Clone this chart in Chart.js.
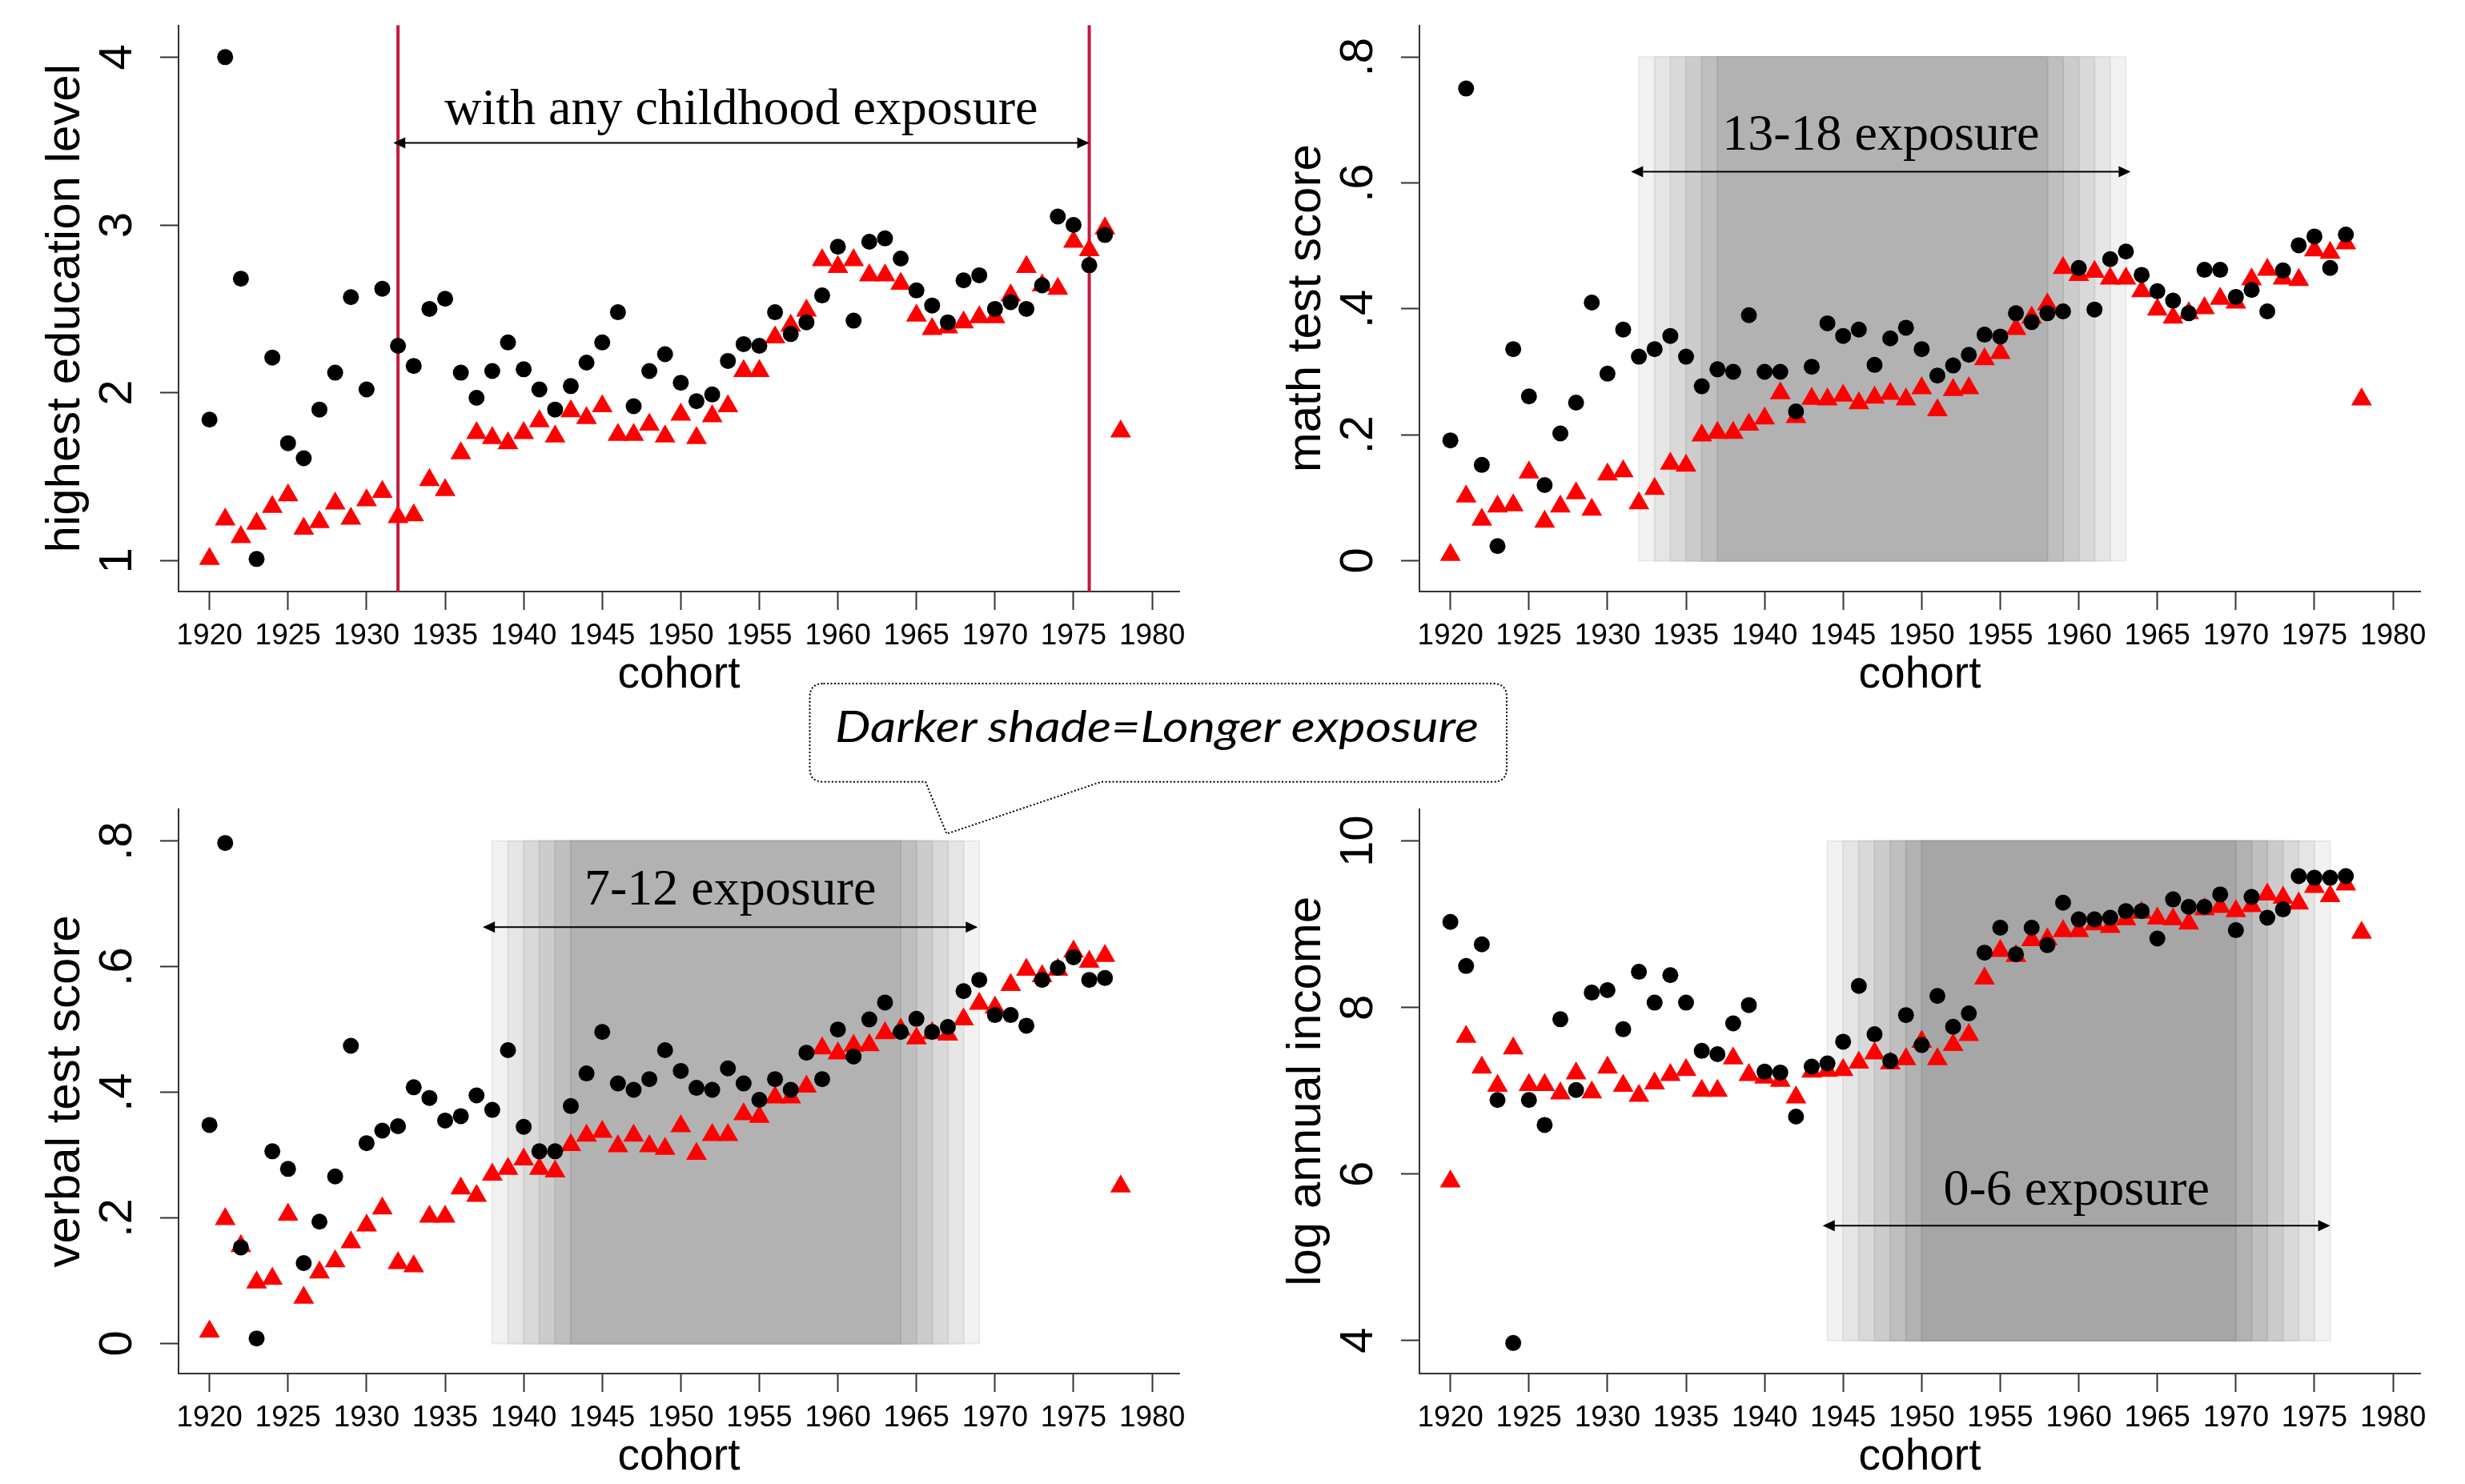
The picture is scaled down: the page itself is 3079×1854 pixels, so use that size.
<!DOCTYPE html>
<html><head><meta charset="utf-8">
<script src="https://cdn.jsdelivr.net/npm/chart.js@4.4.1/dist/chart.umd.min.js"></script>
<style>
html,body{margin:0;padding:0;background:#fff;width:3079px;height:1854px;overflow:hidden;}
canvas{position:absolute;}
#callout{position:absolute;left:0;top:0;z-index:5;pointer-events:none;}
</style></head><body>
<canvas id="c1" width="1529" height="877" style="left:0px;top:0px"></canvas>
<canvas id="c2" width="1529" height="877" style="left:1550px;top:0px"></canvas>
<canvas id="c3" width="1529" height="874" style="left:0px;top:980px"></canvas>
<canvas id="c4" width="1529" height="874" style="left:1550px;top:980px"></canvas>
<svg id="callout" width="3079" height="1854" xmlns="http://www.w3.org/2000/svg">
  <path d="M1028.5,854 H1865 Q1882,854 1882,871 V959.7 Q1882,976.7 1865,976.7 H1376 L1182.5,1041.7 L1156,976.7 H1028.5 Q1011.5,976.7 1011.5,959.7 V871 Q1011.5,854 1028.5,854 Z"
        fill="#ffffff" stroke="#000" stroke-width="2" stroke-dasharray="2,2.5"/>
  <text x="1043" y="926.7" textLength="804" lengthAdjust="spacingAndGlyphs"
        font-family="Lato, 'Open Sans', sans-serif" font-style="italic" font-size="54" fill="#000">Darker shade=Longer exposure</text>
</svg>
<script>
// ---------------- DATA ----------------
const cohorts = [1920,1921,1922,1923,1924,1925,1926,1927,1928,1929,
                 1930,1931,1932,1933,1934,1935,1936,1937,1938,1939,
                 1940,1941,1942,1943,1944,1945,1946,1947,1948,1949,
                 1950,1951,1952,1953,1954,1955,1956,1957,1958,1959,
                 1960,1961,1962,1963,1964,1965,1966,1967,1968,1969,
                 1970,1971,1972,1973,1974,1975,1976,1977,1978];

const xTickValues = [1920,1925,1930,1935,1940,1945,1950,1955,1960,1965,1970,1975,1980];
const xTickLabels = ['1920','1925','1930','1935','1940','1945','1950','1955','1960','1965','1970','1975','1980'];

// highest education level
const eduBlack = [1.84,4.00,2.68,1.01,2.21,1.70,1.61,1.90,2.12,2.57,
                  2.02,2.62,2.28,2.16,2.50,2.56,2.12,1.97,2.13,2.30,
                  2.14,2.02,1.90,2.04,2.18,2.30,2.48,1.92,2.13,2.23,
                  2.06,1.95,1.99,2.19,2.29,2.28,2.48,2.35,2.42,2.58,
                  2.87,2.43,2.90,2.92,2.80,2.61,2.52,2.42,2.67,2.70,
                  2.50,2.54,2.50,2.64,3.05,3.00,2.76,2.94,null];
const eduRed   = [1.01,1.245,1.14,1.22,1.32,1.39,1.19,1.23,1.34,1.25,
                  1.36,1.41,1.26,1.27,1.48,1.42,1.64,1.76,1.73,1.70,
                  1.76,1.83,1.74,1.89,1.85,1.92,1.75,1.75,1.81,1.74,
                  1.87,1.73,1.86,1.92,2.13,2.13,2.33,2.40,2.49,2.79,
                  2.75,2.79,2.70,2.70,2.65,2.46,2.38,2.39,2.42,2.45,
                  2.45,2.58,2.75,2.64,2.62,2.90,2.85,2.98,1.77];
const eduTicks = [1,2,3,4];
const eduTickLabels = ['1','2','3','4'];
const eduLines = [1932,1976];

// math test score
const mathBlack = [0.191,0.750,0.152,0.023,0.336,0.261,0.120,0.202,0.251,0.410,
                   0.297,0.367,0.324,0.336,0.357,0.324,0.277,0.304,0.300,0.390,
                   0.300,0.300,0.237,0.308,0.377,0.357,0.367,0.311,0.353,0.370,
                   0.336,0.294,0.310,0.327,0.359,0.356,0.393,0.379,0.393,0.396,
                   0.465,0.399,0.479,0.491,0.454,0.428,0.413,0.393,0.462,0.462,
                   0.419,0.430,0.396,0.461,0.501,0.515,0.465,0.518,null];
const mathRed   = [0.009,0.102,0.065,0.086,0.088,0.140,0.062,0.086,0.107,0.081,
                   0.137,0.142,0.091,0.114,0.154,0.151,0.199,0.203,0.203,0.216,
                   0.226,0.266,0.228,0.257,0.256,0.262,0.250,0.259,0.265,0.256,
                   0.274,0.239,0.271,0.274,0.320,0.330,0.368,0.386,0.407,0.465,
                   0.454,0.459,0.448,0.448,0.428,0.399,0.386,0.393,0.401,0.416,
                   0.410,0.447,0.462,0.448,0.446,0.493,0.489,0.504,0.256];

// verbal test score
const verbalBlack = [0.348,0.797,0.153,0.008,0.306,0.278,0.128,0.194,0.266,0.474,
                     0.319,0.339,0.346,0.408,0.391,0.355,0.362,0.395,0.372,0.467,
                     0.345,0.306,0.306,0.378,0.430,0.496,0.414,0.404,0.421,0.467,
                     0.434,0.407,0.404,0.438,0.414,0.388,0.421,0.404,0.463,0.421,
                     0.500,0.457,0.516,0.543,0.496,0.517,0.496,0.504,0.561,0.579,
                     0.523,0.523,0.506,0.579,0.598,0.615,0.579,0.582,null];
const verbalRed   = [0.019,0.198,0.155,0.097,0.103,0.205,0.073,0.113,0.131,0.161,
                     0.188,0.215,0.128,0.123,0.202,0.202,0.247,0.235,0.269,0.278,
                     0.293,0.278,0.274,0.316,0.331,0.337,0.314,0.331,0.314,0.310,
                     0.346,0.302,0.332,0.332,0.365,0.361,0.392,0.392,0.409,0.470,
                     0.462,0.474,0.475,0.494,0.500,0.486,0.494,0.492,0.516,0.541,
                     0.535,0.571,0.595,0.585,0.595,0.624,0.608,0.617,0.250];
const scoreTicks = [0,0.2,0.4,0.6,0.8];
const scoreTickLabels = ['0','.2','.4','.6','.8'];

// log annual income
const incomeBlack = [9.03,8.50,8.76,6.89,3.97,6.89,6.59,7.86,7.01,8.18,
                     8.21,7.74,8.43,8.06,8.39,8.06,7.48,7.44,7.81,8.03,
                     7.23,7.22,6.69,7.29,7.33,7.59,8.26,7.68,7.36,7.91,
                     7.55,8.14,7.77,7.93,8.66,8.96,8.64,8.96,8.75,9.26,
                     9.06,9.06,9.08,9.16,9.16,8.83,9.30,9.21,9.21,9.36,
                     8.93,9.33,9.08,9.18,9.58,9.56,9.56,9.58,null];
const incomeRed   = [5.91,7.65,7.28,7.06,7.51,7.07,7.07,6.97,7.21,6.98,
                     7.28,7.06,6.94,7.09,7.19,7.25,7.00,7.00,7.39,7.19,
                     7.16,7.12,6.92,7.23,7.24,7.25,7.34,7.45,7.33,7.38,
                     7.59,7.38,7.55,7.67,8.35,8.68,8.62,8.81,8.82,8.92,
                     8.92,9.00,8.97,9.06,9.14,9.07,9.06,9.01,9.18,9.21,
                     9.16,9.22,9.36,9.32,9.25,9.45,9.34,9.48,8.90];
const incomeTicks = [4,6,8,10];
const incomeTickLabels = ['4','6','8','10'];

// exposure shading (outer -> inner), cohort ranges
const mathBandStart   = [1932,1933,1934,1935,1936,1937];
const mathBandEnd     = [1963,1962,1961,1960,1959,1958];
const verbalBandStart = [1938,1939,1940,1941,1942,1943];
const verbalBandEnd   = [1969,1968,1967,1966,1965,1964];
const incomeBandStart = [1944,1945,1946,1947,1948,1949,1950];
const incomeBandEnd   = [1976,1975,1974,1973,1972,1971,1970];
const bandShades = ['#f2f2f2','#e5e5e5','#d9d9d9','#cccccc','#bfbfbf','#b2b2b2','#a6a6a6'];
const bandEdges  = ['#e8e8e8','#dbdbdb','#cfcfcf','#c2c2c2','#b5b5b5','#a8a8a8','#9c9c9c'];

// ---------------- STYLE / HELPERS ----------------
const SANS = "'Liberation Sans', Arial, sans-serif";
const SERIF = "'Liberation Serif', 'Times New Roman', serif";
const AXIS_COLOR = '#333333';
const Y_TICK_SIZE = 58;

function pts(arr) {
  const out = [];
  arr.forEach((v, i) => { if (v !== null) out.push({x: cohorts[i], y: v}); });
  return out;
}
function widestLabel(labels) {
  const c = document.createElement('canvas').getContext('2d');
  c.font = Y_TICK_SIZE + 'px ' + SANS;
  return Math.max(...labels.map(l => c.measureText(l).width));
}
function noPad(s) { s.paddingTop = 0; s.paddingBottom = 0; s.paddingLeft = 0; s.paddingRight = 0; }

function annotPlugin(ann) {
  return {
    id: 'annot',
    beforeDatasetsDraw(chart) {
      const {ctx, chartArea} = chart;
      const xs = chart.scales.x, ys = chart.scales.y;
      ctx.save();
      if (ann.bandStart) {
        for (let k = 0; k < ann.bandStart.length; k++) {
          const x0 = xs.getPixelForValue(ann.bandStart[k]);
          const x1 = xs.getPixelForValue(ann.bandEnd[k]);
          const y0 = ys.getPixelForValue(ann.bandTop);
          const y1 = ys.getPixelForValue(ann.bandBottom);
          ctx.fillStyle = bandShades[k];
          ctx.fillRect(x0, y0, x1 - x0, y1 - y0);
          ctx.strokeStyle = bandEdges[k];
          ctx.lineWidth = 2;
          ctx.strokeRect(x0, y0, x1 - x0, y1 - y0);
        }
      }
      if (ann.vlines) {
        ctx.strokeStyle = '#c2183f';
        ctx.lineWidth = 4;
        ann.vlines.forEach(v => {
          const x = xs.getPixelForValue(v);
          ctx.beginPath();
          ctx.moveTo(x, chartArea.top);
          ctx.lineTo(x, chartArea.bottom);
          ctx.stroke();
        });
      }
      if (ann.arrow) {
        const a = ann.arrow;
        const xa = xs.getPixelForValue(a.from), xb = xs.getPixelForValue(a.to);
        const y = ys.getPixelForValue(a.y);
        const L = 15, H = 7;
        ctx.strokeStyle = '#000'; ctx.fillStyle = '#000'; ctx.lineWidth = 2;
        ctx.beginPath(); ctx.moveTo(xa + L - 1, y); ctx.lineTo(xb - L + 1, y); ctx.stroke();
        ctx.beginPath(); ctx.moveTo(xa, y); ctx.lineTo(xa + L, y - H); ctx.lineTo(xa + L, y + H); ctx.closePath(); ctx.fill();
        ctx.beginPath(); ctx.moveTo(xb, y); ctx.lineTo(xb - L, y - H); ctx.lineTo(xb - L, y + H); ctx.closePath(); ctx.fill();
        ctx.font = '64px ' + SERIF;
        ctx.textAlign = 'center';
        ctx.textBaseline = 'alphabetic';
        ctx.fillText(a.text, (xa + xb) / 2, ys.getPixelForValue(a.textY));
      }
      ctx.restore();
    }
  };
}

function makeChart(id, p) {
  const widest = widestLabel(p.yLabels);
  const yPad = 75 - 23 - widest / 2;
  return new Chart(document.getElementById(id), {
    type: 'scatter',
    data: {
      datasets: [
        { data: pts(p.black), pointStyle: 'circle', pointRadius: 10, pointHoverRadius: 10,
          backgroundColor: '#000', borderColor: '#000', borderWidth: 0, clip: false },
        { data: pts(p.red), pointStyle: 'triangle', pointRadius: 15, pointHoverRadius: 15,
          backgroundColor: '#ff0000', borderColor: '#ff0000', borderWidth: 0, clip: false }
      ]
    },
    options: {
      responsive: false, animation: false, devicePixelRatio: 1,
      events: [],
      layout: { autoPadding: false, padding: { left: 0, top: p.top, right: 56, bottom: 0 } },
      plugins: { legend: { display: false }, tooltip: { enabled: false } },
      scales: {
        x: {
          type: 'linear', position: 'bottom', min: 1918.03, max: 1981.73,
          afterBuildTicks: s => { s.ticks = xTickValues.map(v => ({value: v})); },
          afterFit: s => { s.height = 138; noPad(s); },
          ticks: { autoSkip: false, maxRotation: 0, minRotation: 0, padding: 11, color: '#000',
                   font: { family: SANS, size: 37 }, callback: (v, i) => xTickLabels[i] },
          grid: { drawOnChartArea: false, drawTicks: true, tickLength: 23, tickWidth: 2, tickColor: AXIS_COLOR },
          border: { display: true, color: AXIS_COLOR, width: 2 },
          title: { display: true, text: 'cohort', color: '#000', font: { family: SANS, size: 55 },
                   padding: { top: 0, bottom: 0 } }
        },
        y: {
          type: 'linear', position: 'left', min: p.yMin, max: p.yMax,
          afterBuildTicks: s => { s.ticks = p.yTicks.map(v => ({value: v})); },
          afterFit: s => { s.width = 223; noPad(s); },
          ticks: { autoSkip: false, minRotation: 90, maxRotation: 90, crossAlign: 'center', padding: yPad,
                   color: '#000', font: { family: SANS, size: Y_TICK_SIZE },
                   callback: (v, i) => p.yLabels[i] },
          grid: { drawOnChartArea: false, drawTicks: true, tickLength: 23, tickWidth: 2, tickColor: AXIS_COLOR },
          border: { display: true, color: AXIS_COLOR, width: 2 },
          title: { display: true, text: p.yTitle, color: '#000', font: { family: SANS, size: 60 },
                   padding: { top: 46, bottom: 0 } }
        }
      }
    },
    plugins: [annotPlugin(p.ann)]
  });
}

makeChart('c1', {
  black: eduBlack, red: eduRed, yMin: 0.816, yMax: 4.19, yTicks: eduTicks, yLabels: eduTickLabels,
  yTitle: 'highest education level', top: 31.5,
  ann: { vlines: eduLines, arrow: { from: 1931.7, to: 1976.0, y: 3.489, text: 'with any childhood exposure', textY: 3.60 } }
});
makeChart('c2', {
  black: mathBlack, red: mathRed, yMin: -0.0491, yMax: 0.8506, yTicks: scoreTicks, yLabels: scoreTickLabels,
  yTitle: 'math test score', top: 31.5,
  ann: { bandStart: mathBandStart, bandEnd: mathBandEnd, bandTop: 0.8, bandBottom: 0,
         arrow: { from: 1931.5, to: 1963.3, y: 0.618, text: '13-18 exposure', textY: 0.653 } }
});
makeChart('c3', {
  black: verbalBlack, red: verbalRed, yMin: -0.0479, yMax: 0.8511, yTicks: scoreTicks, yLabels: scoreTickLabels,
  yTitle: 'verbal test score', top: 30.7,
  ann: { bandStart: verbalBandStart, bandEnd: verbalBandEnd, bandTop: 0.8, bandBottom: 0,
         arrow: { from: 1937.4, to: 1968.9, y: 0.663, text: '7-12 exposure', textY: 0.699 } }
});
makeChart('c4', {
  black: incomeBlack, red: incomeRed, yMin: 3.603, yMax: 10.386, yTicks: incomeTicks, yLabels: incomeTickLabels,
  yTitle: 'log annual income', top: 30.7,
  ann: { bandStart: incomeBandStart, bandEnd: incomeBandEnd, bandTop: 10, bandBottom: 4,
         arrow: { from: 1943.7, to: 1976.0, y: 5.38, text: '0-6 exposure', textY: 5.634 } }
});
</script>
</body></html>
